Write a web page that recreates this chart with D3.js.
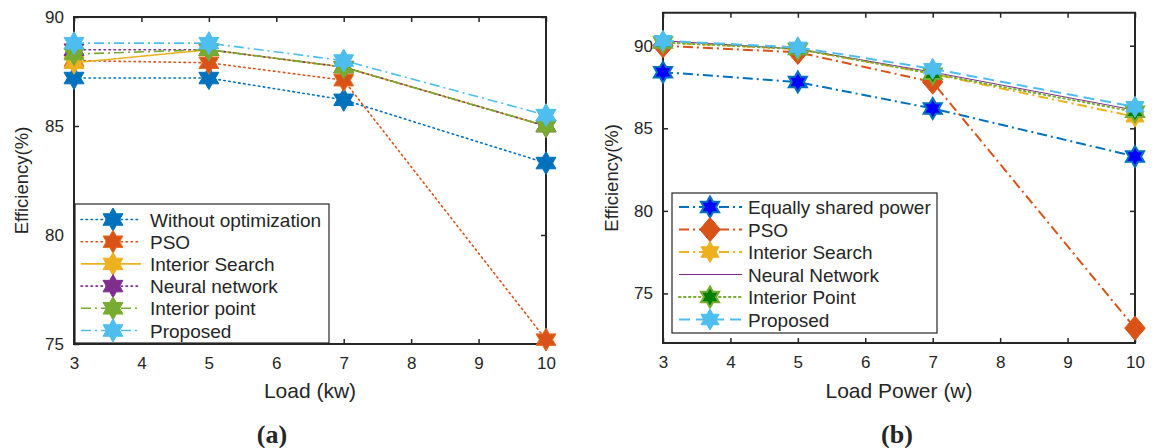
<!DOCTYPE html>
<html>
<head>
<meta charset="utf-8">
<script src="https://cdn.jsdelivr.net/npm/d3@7"></script>
<style>
  html, body { margin: 0; padding: 0; background: #fff; }
  svg { display: block; }
  text { font-family: "Liberation Sans", Arial, sans-serif; fill: #262626; }
</style>
</head>
<body>
<svg id="chart" width="1163" height="448"></svg>
<script>
// ---------- DATA ----------
const loadsA = [3, 5, 7, 10];
const namesA = ["Without optimization", "PSO", "Interior Search", "Neural network", "Interior point", "Proposed"];
const withoutOpt = [87.2, 87.2, 86.2, 83.3];
const psoA = [88.0, 87.9, 87.1, 75.2];
const interiorSearchA = [87.9, 88.5, 87.7, 85.0];
const neuralA = [88.5, 88.5, 87.7, 85.0];
const interiorPointA = [88.3, 88.5, 87.7, 85.0];
const proposedA = [88.8, 88.8, 88.0, 85.5];

const loadsB = [3, 5, 7, 10];
const namesB = ["Equally shared power", "PSO", "Interior Search", "Neural Network", "Interior Point", "Proposed"];
const equallyShared = [88.4, 87.8, 86.2, 83.3];
const psoB = [90.0, 89.6, 87.8, 72.9];
const interiorSearchB = [90.2, 89.8, 88.3, 85.7];
const neuralB = [90.3, 89.8, 88.4, 86.1];
const interiorPointB = [90.2, 89.8, 88.3, 86.0];
const proposedB = [90.3, 89.9, 88.6, 86.3];

const xTicks = [3, 4, 5, 6, 7, 8, 9, 10];
const yTicks = [75, 80, 85, 90];

// ---------- STYLE ----------
const C = { blue: "#0072BD", orange: "#D95319", yellow: "#EDB120", purple: "#7E2F8E", green: "#77AC30", cyan: "#4DBEEE" };
const DOT = "1.5,3.5", DASHDOT = "10,4,2,4", DASH = "11,6";

const seriesA = [
  { name: namesA[0], values: withoutOpt, color: C.blue, dash: DOT, width: 1.6, marker: "star", fill: C.blue, stroke: C.blue },
  { name: namesA[1], values: psoA, color: C.orange, dash: DOT, width: 1.6, marker: "star", fill: C.orange, stroke: "#E8701F" },
  { name: namesA[2], values: interiorSearchA, color: C.yellow, dash: null, width: 1.6, marker: "star", fill: C.yellow, stroke: C.yellow },
  { name: namesA[3], values: neuralA, color: C.purple, dash: DOT, width: 1.6, marker: "star", fill: C.purple, stroke: C.purple },
  { name: namesA[4], values: interiorPointA, color: C.green, dash: DASHDOT, width: 1.6, marker: "star", fill: C.green, stroke: C.green },
  { name: namesA[5], values: proposedA, color: C.cyan, dash: DASHDOT, width: 1.6, marker: "star", fill: C.cyan, stroke: C.cyan }
];
const seriesB = [
  { name: namesB[0], values: equallyShared, color: C.blue, dash: DASHDOT, width: 2, marker: "star", fill: "#0000FF", stroke: C.blue },
  { name: namesB[1], values: psoB, color: C.orange, dash: DASHDOT, width: 2, marker: "diamond", fill: C.orange, stroke: C.orange },
  { name: namesB[2], values: interiorSearchB, color: C.yellow, dash: DASHDOT, width: 2, marker: "star", fill: C.yellow, stroke: C.yellow },
  { name: namesB[3], values: neuralB, color: C.purple, dash: null, width: 1, marker: null },
  { name: namesB[4], values: interiorPointB, color: C.green, dash: DOT, width: 2, marker: "star", fill: "#008000", stroke: C.green },
  { name: namesB[5], values: proposedB, color: C.cyan, dash: DASH, width: 2, marker: "star", fill: C.cyan, stroke: C.cyan }
];

const svg = d3.select("#chart");

function starPath(r) {
  const pts = [];
  for (let i = 0; i < 12; i++) {
    const rad = i % 2 === 0 ? r : r / Math.sqrt(3);
    const a = -Math.PI / 2 + i * Math.PI / 6;
    pts.push([rad * Math.cos(a), rad * Math.sin(a)]);
  }
  return "M" + pts.map(p => p[0].toFixed(2) + "," + p[1].toFixed(2)).join("L") + "Z";
}
function diamondPath(r) {
  return `M0,${-r}L${r * 0.85},0L0,${r}L${-r * 0.85},0Z`;
}

function drawMarker(g, s, x, y, size) {
  if (!s.marker) return;
  const d = s.marker === "star" ? starPath(size) : diamondPath(size * 1.15);
  g.append("path").attr("d", d).attr("transform", `translate(${x},${y})`)
    .attr("fill", s.fill).attr("stroke", s.stroke).attr("stroke-width", s.fill === "#0000FF" || s.fill === "#008000" ? 2 : 1)
    .attr("stroke-linejoin", "miter");
}

function drawPanel(cfg) {
  const { x0, x1, y0, y1, yDomain, series, xs, legend, xTitle, yTitleX, caption, captionX, markerSize } = cfg;
  const x = d3.scaleLinear().domain([3, 10]).range([x0, x1]);
  const y = d3.scaleLinear().domain(yDomain).range([y1, y0]);
  const g = svg.append("g");

  // axes
  const axisColor = "#262626";
  const bottom = g.append("g").attr("transform", `translate(0,${y1})`)
    .call(d3.axisBottom(x).tickValues(xTicks).tickFormat(d3.format("d")).tickSizeInner(-5).tickSizeOuter(0).tickPadding(13));
  const top = g.append("g").attr("transform", `translate(0,${y0})`)
    .call(d3.axisTop(x).tickValues(xTicks).tickFormat("").tickSizeInner(-5).tickSizeOuter(0));
  const left = g.append("g").attr("transform", `translate(${x0},0)`)
    .call(d3.axisLeft(y).tickValues(yTicks).tickFormat(d3.format("d")).tickSizeInner(-5).tickSizeOuter(0).tickPadding(10));
  const right = g.append("g").attr("transform", `translate(${x1},0)`)
    .call(d3.axisRight(y).tickValues(yTicks).tickFormat("").tickSizeInner(-5).tickSizeOuter(0));
  [bottom, top, left, right].forEach(a => {
    a.selectAll("path.domain").attr("stroke", axisColor).attr("stroke-width", 2);
    a.selectAll(".tick line").attr("stroke", axisColor).attr("stroke-width", 1.5);
    a.selectAll(".tick text").style("font-family", "Liberation Sans, Arial, sans-serif").style("font-size", "17px").attr("fill", "#262626");
  });
  bottom.select("path.domain").attr("d", `M${x0 - 1},0H${x1 + 1}`);
  top.select("path.domain").attr("d", `M${x0 - 1},0H${x1 + 1}`);
  left.select("path.domain").attr("d", `M0,${y0}V${y1}`);
  right.select("path.domain").attr("d", `M0,${y0}V${y1}`);

  // series
  const line = d3.line().x((d, i) => x(xs[i])).y(d => y(d));
  series.forEach(s => {
    const sg = g.append("g");
    sg.append("path").attr("d", line(s.values)).attr("fill", "none")
      .attr("stroke", s.color).attr("stroke-width", s.width)
      .attr("stroke-dasharray", s.dash).attr("stroke-linecap", s.dash === DOT ? "round" : "butt");
    s.values.forEach((v, i) => drawMarker(sg, s, x(xs[i]), y(v), markerSize));
  });

  // legend
  const lg = g.append("g");
  lg.append("rect").attr("x", legend.x).attr("y", legend.y).attr("width", legend.w).attr("height", legend.h)
    .attr("fill", "#fff").attr("stroke", "#262626").attr("stroke-width", 1.2);
  series.forEach((s, i) => {
    const cy = legend.y + legend.first + i * legend.step;
    lg.append("line").attr("x1", legend.lx0).attr("x2", legend.lx1).attr("y1", cy).attr("y2", cy)
      .attr("stroke", s.color).attr("stroke-width", s.width).attr("stroke-dasharray", s.dash)
      .attr("stroke-linecap", s.dash === DOT ? "round" : "butt");
    drawMarker(lg, s, legend.mx, cy, markerSize);
    lg.append("text").attr("x", legend.tx).attr("y", cy + 7).style("font-size", "19px").text(s.name);
  });

  // titles
  g.append("text").attr("x", (x0 + x1) / 2).attr("y", 398).attr("text-anchor", "middle")
    .style("font-size", "21px").text(xTitle);
  g.append("text").attr("transform", `translate(${yTitleX},${(y0 + y1) / 2}) rotate(-90)`)
    .attr("text-anchor", "middle").style("font-size", "18.5px").text("Efficiency(%)");
  g.append("text").attr("x", captionX).attr("y", 443).attr("text-anchor", "middle")
    .style("font-family", "Liberation Serif, Times New Roman, serif").style("font-weight", "bold")
    .style("font-size", "26px").attr("fill", "#000").text(caption);
}

drawPanel({
  x0: 74, x1: 546, y0: 17, y1: 344, yDomain: [75, 90], series: seriesA, xs: loadsA,
  legend: { x: 75, y: 204, w: 254, h: 139, first: 15.5, step: 22.2, lx0: 81, lx1: 141, mx: 113, tx: 150 },
  xTitle: "Load (kw)", yTitleX: 28, caption: "(a)", captionX: 272, markerSize: 11.5
});
drawPanel({
  x0: 663, x1: 1135, y0: 12.7, y1: 343, yDomain: [72, 92], series: seriesB, xs: loadsB,
  legend: { x: 672, y: 193, w: 265, h: 140, first: 14, step: 22.5, lx0: 679, lx1: 742, mx: 710, tx: 748 },
  xTitle: "Load Power (w)", yTitleX: 618, caption: "(b)", captionX: 897, markerSize: 10.5
});
</script>
</body>
</html>
